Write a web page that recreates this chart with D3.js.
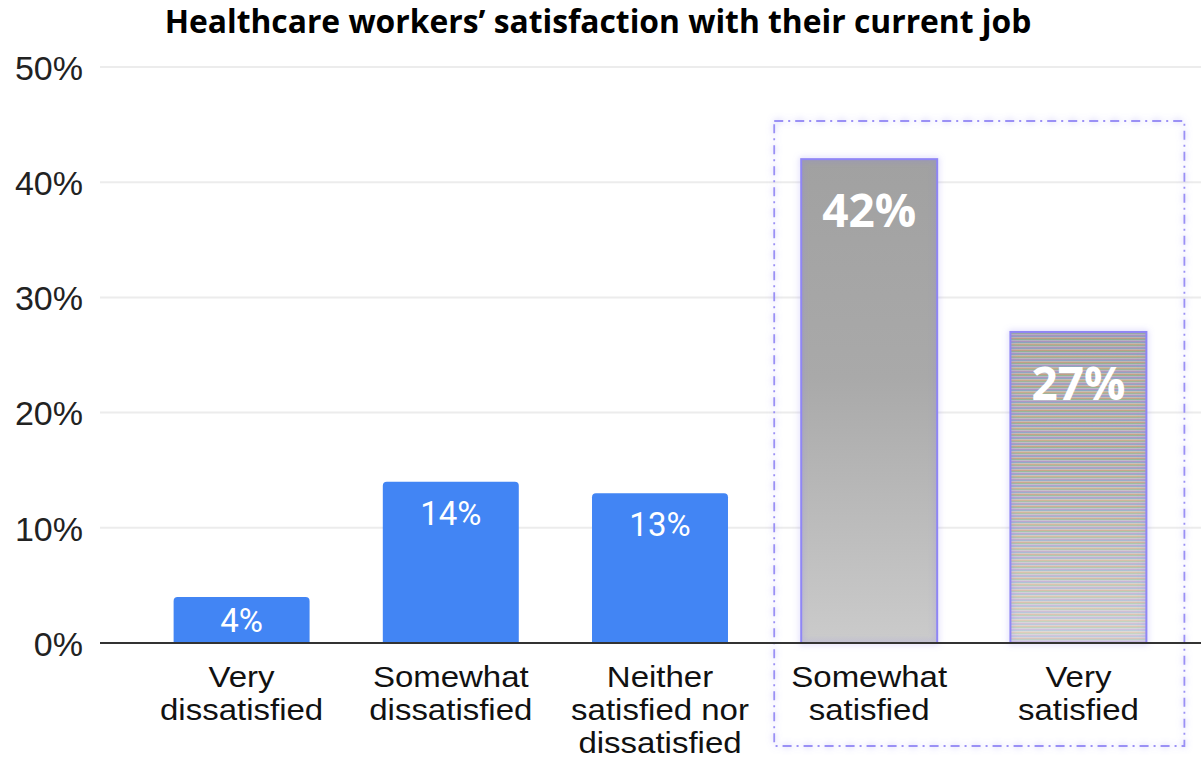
<!DOCTYPE html>
<html>
<head>
<meta charset="utf-8">
<script src="https://cdn.jsdelivr.net/npm/d3@7"></script>
<style>
  html, body { margin: 0; padding: 0; background: #fff; }
  svg { display: block; }
</style>
</head>
<body>
<svg id="chart" width="1201" height="760"></svg>
<script>
// Survey results: share of respondents per satisfaction level
const categories = [
  "Very dissatisfied",
  "Somewhat dissatisfied",
  "Neither satisfied nor dissatisfied",
  "Somewhat satisfied",
  "Very satisfied"
];
const categoryLines = [
  ["Very", "dissatisfied"],
  ["Somewhat", "dissatisfied"],
  ["Neither", "satisfied nor", "dissatisfied"],
  ["Somewhat", "satisfied"],
  ["Very", "satisfied"]
];
const values = [4, 14, 13, 42, 27];
const highlighted = ["Somewhat satisfied", "Very satisfied"];
const yTicks = [0, 10, 20, 30, 40, 50];
const title = "Healthcare workers\u2019 satisfaction with their current job";

const W = 1201, H = 760;
const svg = d3.select("#chart");
const defs = svg.append("defs");

// soft purple glow around the emphasised marks
const glow = defs.append("filter").attr("id", "glow")
  .attr("x", "-20%").attr("y", "-20%").attr("width", "140%").attr("height", "140%");
glow.append("feDropShadow").attr("dx", 0).attr("dy", 0)
  .attr("stdDeviation", 3).attr("flood-color", "#8a80f2").attr("flood-opacity", 0.6);

// grey gradient for "Somewhat satisfied"
const greyGrad = defs.append("linearGradient").attr("id", "greyGrad")
  .attr("x1", 0).attr("y1", 0).attr("x2", 0).attr("y2", 1);
greyGrad.append("stop").attr("offset", "0%").attr("stop-color", "#a1a1a1");
greyGrad.append("stop").attr("offset", "45%").attr("stop-color", "#a9a9a9");
greyGrad.append("stop").attr("offset", "100%").attr("stop-color", "#cbcbcb");

// fine multicoloured horizontal stripes for "Very satisfied"
const stripeColors = ["#8ea4c4", "#c49e82", "#92b492", "#ab93c4", "#8aa8c0", "#c8a888", "#9cb496", "#b096bc"];
const stripes = defs.append("pattern").attr("id", "stripes")
  .attr("patternUnits", "userSpaceOnUse")
  .attr("width", 10).attr("height", stripeColors.length * 1.5);
stripes.selectAll("rect").data(stripeColors).join("rect")
  .attr("x", 0).attr("y", (d, i) => i * 1.5)
  .attr("width", 10).attr("height", 1.5)
  .attr("fill", d => d);
const fade = defs.append("linearGradient").attr("id", "fade")
  .attr("x1", 0).attr("y1", 0).attr("x2", 0).attr("y2", 1);
fade.append("stop").attr("offset", "0%").attr("stop-color", "#888").attr("stop-opacity", 0.12);
fade.append("stop").attr("offset", "40%").attr("stop-color", "#fff").attr("stop-opacity", 0.05);
fade.append("stop").attr("offset", "100%").attr("stop-color", "#fff").attr("stop-opacity", 0.45);

// scales
const x = d3.scaleBand().domain(categories).range([137, 1183])
  .paddingInner(0.35).paddingOuter(0.175);
const y = d3.scaleLinear().domain([0, 50]).range([643, 67]);

// title
svg.append("text")
  .attr("x", 598).attr("y", 33)
  .attr("text-anchor", "middle")
  .style("font-family", "'Open Sans', sans-serif")
  .style("font-weight", 700)
  .style("font-size", "31.8px")
  .attr("fill", "#000")
  .text(title);

// horizontal gridlines
svg.append("g").selectAll("line").data(yTicks.filter(d => d > 0)).join("line")
  .attr("x1", 100).attr("x2", W)
  .attr("y1", d => y(d)).attr("y2", d => y(d))
  .attr("stroke", "#ececec").attr("stroke-width", 2);

// y axis labels
const yAxis = d3.axisLeft(y).tickValues(yTicks).tickFormat(d => d + "%").tickSize(0).tickPadding(0);
svg.append("g").attr("transform", "translate(83,0)").call(yAxis)
  .call(g => g.select(".domain").remove())
  .call(g => g.selectAll("text")
    .attr("dy", "0.36em")
    .style("font-family", "'Liberation Sans', Arial, sans-serif")
    .style("font-size", "34px")
    .attr("fill", "#222"));

// dash-dot frame around the satisfied responses
const hx0 = x(highlighted[0]) - 27;
const hx1 = x(highlighted[1]) + x.bandwidth() + 38;
svg.append("rect")
  .attr("x", hx0).attr("y", 121)
  .attr("width", hx1 - hx0).attr("height", 746 - 121)
  .attr("fill", "none")
  .attr("stroke", "#9a90f5").attr("stroke-width", 1.8)
  .attr("stroke-dasharray", "9,5,2,5")
  .attr("filter", "url(#glow)");

const data = categories.map((c, i) => ({ cat: c, value: values[i], lines: categoryLines[i] }));
const isHi = d => highlighted.includes(d.cat);

// plain bars with lightly rounded tops
function topRounded(x0, y0, w, h, r) {
  return `M${x0},${y0 + h} V${y0 + r} Q${x0},${y0} ${x0 + r},${y0} H${x0 + w - r} Q${x0 + w},${y0} ${x0 + w},${y0 + r} V${y0 + h} Z`;
}
svg.append("g").selectAll("path").data(data.filter(d => !isHi(d))).join("path")
  .attr("d", d => topRounded(x(d.cat), y(d.value), x.bandwidth(), y(0) - y(d.value), 4))
  .attr("fill", "#4285f4");

// emphasised bars
const hiG = svg.append("g");
data.filter(isHi).forEach((d, i) => {
  const bx = x(d.cat), by = y(d.value), bw = x.bandwidth(), bh = y(0) - y(d.value);
  if (i === 0) {
    hiG.append("rect").attr("x", bx).attr("y", by).attr("width", bw).attr("height", bh)
      .attr("fill", "url(#greyGrad)");
  } else {
    hiG.append("rect").attr("x", bx).attr("y", by).attr("width", bw).attr("height", bh)
      .attr("fill", "url(#stripes)");
    hiG.append("rect").attr("x", bx).attr("y", by).attr("width", bw).attr("height", bh)
      .attr("fill", "url(#fade)");
  }
  hiG.append("rect").attr("x", bx).attr("y", by).attr("width", bw).attr("height", bh)
    .attr("fill", "none").attr("stroke", "#8f86f5").attr("stroke-width", 2)
    .attr("filter", "url(#glow)");
});

// baseline
svg.append("line")
  .attr("x1", 100).attr("x2", W)
  .attr("y1", y(0)).attr("y2", y(0))
  .attr("stroke", "#333").attr("stroke-width", 2);

// value labels
svg.append("g").selectAll("text").data(data).join("text")
  .attr("x", d => x(d.cat) + x.bandwidth() / 2)
  .attr("y", d => {
    const top = y(d.value), h = y(0) - top;
    return isHi(d) ? top + 68 : top + Math.min(43, h / 2 + 12);
  })
  .attr("text-anchor", "middle")
  .style("font-family", d => isHi(d) ? "'Open Sans', sans-serif" : "Roboto, sans-serif")
  .style("font-weight", d => isHi(d) ? 700 : 400)
  .style("font-size", d => isHi(d) ? "46px" : "33px")
  .attr("fill", "#fff")
  .text(d => d.value + "%");

// category labels, slightly widened type, one text per line
const lineGap = 33;
const xl = svg.append("g").selectAll("g").data(data).join("g")
  .attr("transform", d => `translate(${x(d.cat) + x.bandwidth() / 2},0) scale(1.1,1)`);
xl.selectAll("text").data(d => d.lines).join("text")
  .attr("x", 0)
  .attr("y", (d, i) => 687 + i * lineGap)
  .attr("text-anchor", "middle")
  .style("font-family", "'Liberation Sans', Arial, sans-serif")
  .style("font-size", "30px")
  .attr("fill", "#111")
  .text(d => d);
</script>
</body>
</html>
